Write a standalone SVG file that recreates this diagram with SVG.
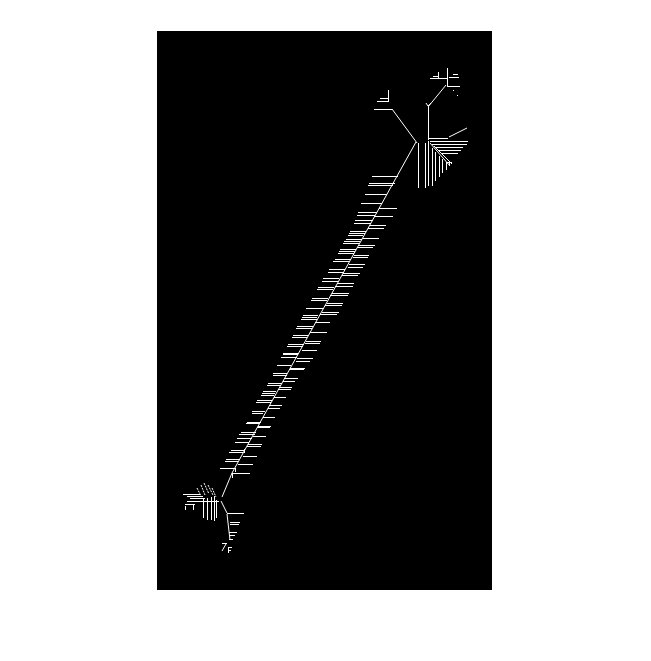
<svg xmlns="http://www.w3.org/2000/svg" width="651" height="661" viewBox="0 0 651 661">
<style>
.w{fill:none;stroke:#fff;stroke-width:1}
.c{shape-rendering:crispEdges}
.d{stroke-dasharray:2 1}
</style>
<rect x="0" y="0" width="651" height="661" fill="#fff"/>
<rect x="157" y="31" width="335" height="559" fill="#000"/>
<g id="connectors">
<path id="spine" class="w" d="M416 142 L232 473 L222 497"/>
<path id="ticks" class="w c" d="
M372 176.5H398 M369 183.5H395 M368 185.5H393 M365 194.5H387 M361 203.5H382 M379 208.5H397
M358 212.5H377 M357 215.5H375 M374 216.5H393 M355 220.5H373 M354 223.5H371 M370 225.5H386 M368 228.5H384
M350 231.5H366 M349 233.5H365 M348 235.5H363 M363 238.5H379 M346 239.5H362 M344 241.5H360 M343 243.5H359
M359 245.5H375 M357 247.5H373 M340 249.5H356 M339 251.5H355 M338 253.5H354 M354 255.5H369 M353 257.5H368
M335 259.5H351 M333 261.5H349 M349 264.5H365 M348 267.5H363 M329 269.5H345 M328 272.5H343 M343 273.5H360
M342 275.5H358 M323 278.5H339 M322 281.5H338 M337 283.5H354 M335 286.5H353 M318 287.5H334 M317 289.5H333
M332 293.5H349 M330 295.5H348 M312 298.5H328 M311 300.5H327 M327 303.5H343 M325 305.5H342 M306 308.5H323
M322 312.5H339 M320 314.5H337 M303 315.5H318 M302 317.5H317 M301 319.5H317 M315 322.5H330
M297 326.5H313 M296 328.5H312 M310 332.5H327 M293 335.5H308 M292 337.5H307 M306 341.5H321 M305 343.5H320
M288 344.5H304 M287 346.5H303 M302 350.5H317 M283 353.5H299 M283 354.5H298 M281 357.5H297 M297 358.5H313
M296 361.5H310 M277 365.5H291 M290 368.5H305 M289 369.5H304 M273 373.5H287 M273 375.5H287 M284 378.5H298
M283 381.5H295 M268 383.5H282 M267 385.5H281 M279 387.5H292 M278 389.5H291 M263 391.5H276 M262 393.5H275
M261 395.5H274 M274 397.5H286 M257 400.5H272 M256 402.5H271 M270 405.5H282 M268 408.5H280 M252 411.5H265
M252 413.5H263 M263 417.5H275 M247 422.5H261 M246 423.5H260 M258 426.5H271 M257 427.5H270 M241 432.5H256
M239 434.5H255 M253 436.5H266 M237 438.5H252 M235 442.5H249 M248 444.5H262 M247 446.5H261 M231 450.5H244
M229 452.5H243 M243 456.5H257 M226 459.5H239 M225 461.5H238 M238 464.5H253 M220 468.5H235 M233 473.5H250
M244.5 449V453 M235.5 468V472 M232.5 473V478"/>
</g>
<g id="top-hub">
<path class="w" d="M417 143 L392 109 M428 107 L446 85 M449 137 L467 128"/>
<path class="w c" d="M374 109.5H392 M377 101.5H389 M388.5 90V101 M380 98.5H388
M428.5 107V140 M428 138.5H448
M418.5 143V188 M425.5 143V188 M428.5 141V186 M432.5 148V186 M435.5 152V181 M439.5 156V177 M442.5 159V173 M446.5 162V170
M430 141.5H468 M432 144.5H467 M435 147.5H463 M438 150.5H461 M441 153.5H458
M446 162.5H452 M449.5 162V166"/>
<path class="w" d="M430 143 L450 166 M434 146 L452 164"/>
</g>
<g id="top-cluster">
<path class="w c" d="M447.5 68V87 M430 78.5H447 M449 77.5H459 M453 74.5H458 M447 86.5H460 M438.5 72V78 M433 76.5H438 M453 90.5H454 M457 95.5H458"/>
<path class="w" d="M426 103 L428 106 M431 103 L428 106"/>
</g>
<g id="bottom-hub">
<path class="w" d="M221 501 L227 513 M227 514 L230 540 M226 544 L222 551"/>
<path class="w c" d="M227 513.5H244 M230 522.5H240 M230 524.5H239 M229 532.5H237 M229 535.5H235 M229 539.5H233
M222 543.5H227 M228.5 547V553 M228 547.5H232 M228 550.5H231
M183 494.5H200 M187 496.5H203 M190 498.5H205 M187 501.5H219 M185 504.5H195
M185.5 506V510 M193.5 505V510
M203.5 498V518 M207.5 498V520 M211.5 497V520 M214.5 496V521 M216.5 500V518"/>
<path class="w d" d="M201 485 L205 495 M204 483 L209 494 M208 485 L213 495 M212 488 L216 497 M197 488 L201 496"/>
</g>
</svg>
